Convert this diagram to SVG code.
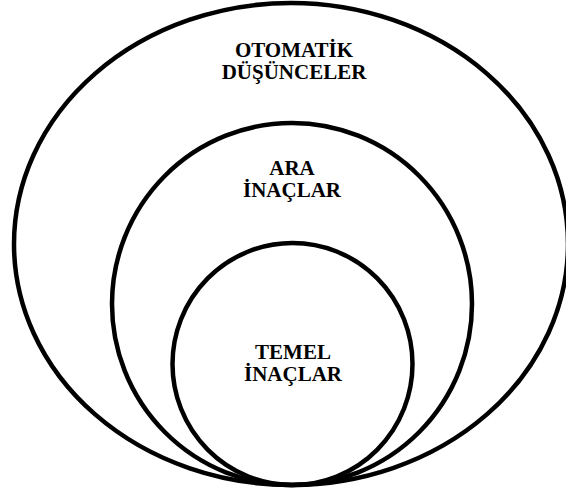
<svg xmlns="http://www.w3.org/2000/svg" width="566" height="494" viewBox="0 0 566 494">
<style>
.ring{fill:none;stroke:#000;stroke-width:4.5}
text{font-family:'Liberation Serif','DejaVu Serif',serif;font-weight:700;font-size:21px;fill:#000;text-anchor:middle}
</style>
<rect width="566" height="494" fill="#fff"/>
<g id="outer">
<ellipse class="ring" cx="291" cy="244" rx="277" ry="241"/>
<text x="294" y="57"><tspan x="294">OTOMATİK</tspan><tspan x="294" dy="22">DÜŞÜNCELER</tspan></text>
</g>
<g id="middle">
<ellipse class="ring" cx="292" cy="304" rx="180" ry="181"/>
<text x="292" y="175"><tspan x="292">ARA</tspan><tspan x="292" dy="22">İNAÇLAR</tspan></text>
</g>
<g id="inner">
<ellipse class="ring" cx="292.5" cy="364" rx="120" ry="121"/>
<text x="293" y="359"><tspan x="293">TEMEL</tspan><tspan x="293" dy="22">İNAÇLAR</tspan></text>
</g>
<g id="connectors"></g>
</svg>
